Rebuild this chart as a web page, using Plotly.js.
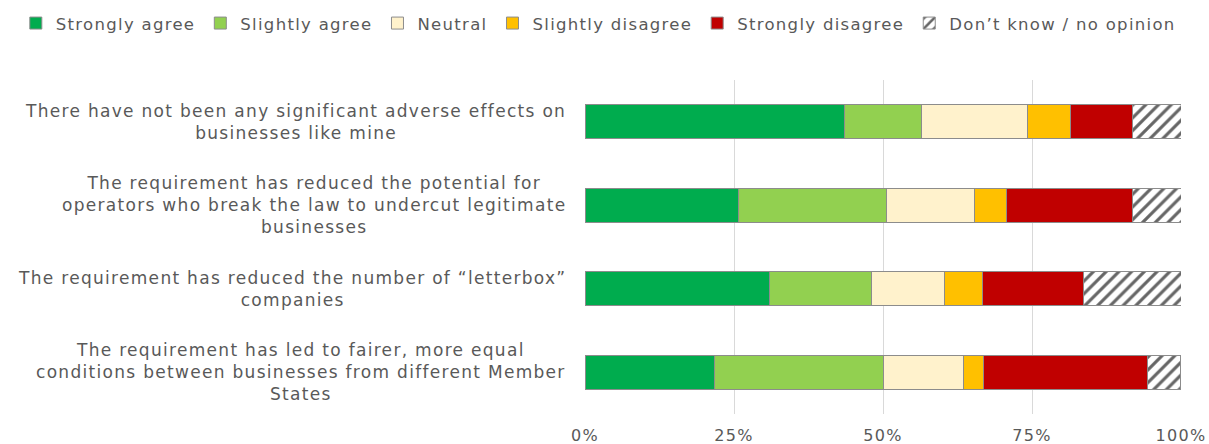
<!DOCTYPE html>
<html><head><meta charset="utf-8">
<script src="https://cdn.plot.ly/plotly-3.0.1.min.js"></script>
<style>html,body{margin:0;padding:0;background:#fff}#chart{width:1209px;height:444px}
text{letter-spacing:1.3px}</style>
</head><body><div id="chart"></div>
<script>
const statements = [
  "There have not been any significant adverse effects on<br>businesses like mine",
  "The requirement has reduced the potential for<br>operators who break the law to undercut legitimate<br>businesses",
  "The requirement has reduced the number of “letterbox”<br>companies",
  "The requirement has led to fairer, more equal<br>conditions between businesses from different Member<br>States"
];
const seriesNames = ["Strongly agree", "Slightly agree", "Neutral", "Slightly disagree", "Strongly disagree", "Don’t know / no opinion"];
const stronglyAgree    = [43.5, 25.7, 31.0, 21.7];
const slightlyAgree    = [13.0, 24.9, 17.1, 28.3];
const neutral          = [17.7, 14.7, 12.3, 13.5];
const slightlyDisagree = [7.2, 5.5, 6.3, 3.4];
const stronglyDisagree = [10.5, 21.0, 16.9, 27.4];
const dontKnow         = [8.1, 8.2, 16.4, 5.6];
const xTickVals = [0, 25, 50, 75, 100];
const xTickText = ["0%", "25%", "50%", "75%", "100%"];

const colors = ["#00ac4e", "#92d050", "#fff2cc", "#ffc000", "#c00000", "#ffffff"];
const allSeries = [stronglyAgree, slightlyAgree, neutral, slightlyDisagree, stronglyDisagree, dontKnow];
const textColor = "#595959";
const fontFam = "DejaVu Sans, Verdana, sans-serif";

const traces = allSeries.map((vals, i) => {
  const marker = {color: colors[i], line: {color: "#8c8c8c", width: 1}};
  if (i === 5) {
    marker.pattern = {shape: "/", fgcolor: "#666666", bgcolor: "#ffffff", size: 9, solidity: 0.35};
  }
  return {
    type: "bar", orientation: "h", name: seriesNames[i],
    x: vals, y: statements, marker: marker, hoverinfo: "x+name"
  };
});

const annotations = statements.map(s => ({
  xref: "paper", yref: "y", x: 0, y: s, xshift: -17,
  xanchor: "right", yanchor: "middle", align: "center",
  text: s, showarrow: false,
  font: {family: fontFam, size: 17, color: textColor}
}));

const layout = {
  width: 1209, height: 444,
  margin: {l: 585, r: 28, t: 80, b: 30, autoexpand: false},
  barmode: "stack", bargap: 0.59,
  paper_bgcolor: "#ffffff", plot_bgcolor: "#ffffff",
  font: {family: fontFam, size: 16.5, color: textColor},
  xaxis: {
    range: [0, 100], tickvals: xTickVals, ticktext: xTickText,
    showgrid: true, gridcolor: "#d9d9d9", gridwidth: 1, zeroline: false,
    showline: false, ticks: "", ticklabelstandoff: 10,
    tickfont: {family: fontFam, size: 16, color: textColor}
  },
  yaxis: {
    type: "category", autorange: "reversed", showticklabels: false,
    showgrid: false, zeroline: false, showline: false, ticks: ""
  },
  legend: {
    orientation: "h", x: -0.955, xanchor: "left", y: 1.222, yanchor: "top",
    font: {family: fontFam, size: 16.5, color: textColor},
    traceorder: "normal", itemwidth: 30
  },
  annotations: annotations,
  showlegend: true
};

Plotly.newPlot("chart", traces, layout, {displayModeBar: false, staticPlot: true});
</script>
</body></html>
